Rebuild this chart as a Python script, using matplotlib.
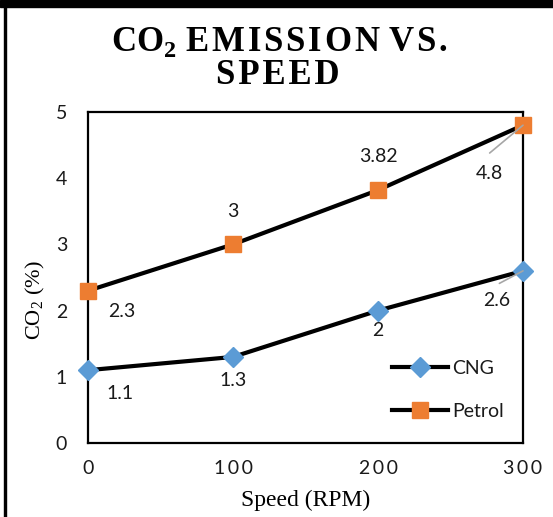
import matplotlib
matplotlib.use("Agg")
import matplotlib.pyplot as plt
from matplotlib.patches import Rectangle

# data
speed = [0, 100, 200, 300]
cng = [1.1, 1.3, 2, 2.6]
petrol = [2.3, 3, 3.82, 4.8]
xtick_labels = ["0", "1\u20090\u20090", "2\u20090\u20090", "3\u20090\u20090"]

blue = "#5B9BD5"
orange = "#ED7D31"

plt.rcParams["font.family"] = ["Lato", "DejaVu Sans"]
plt.rcParams["mathtext.fontset"] = "custom"
plt.rcParams["mathtext.rm"] = "Liberation Serif"
plt.rcParams["mathtext.bf"] = "Liberation Serif:bold"

fig = plt.figure(figsize=(5.53, 5.17), dpi=100)
ax = fig.add_axes([88 / 553, 1 - 443 / 517, 435 / 553, 331 / 517])

ax.plot(speed, cng, color="black", lw=3, marker="D", ms=10.5,
        mfc=blue, mec=blue, label="CNG", zorder=3, clip_on=False)
ax.plot(speed, petrol, color="black", lw=3, marker="s", ms=11.5,
        mfc=orange, mec=orange, label="Petrol", zorder=3, clip_on=False)

ax.set_xlim(0, 300)
ax.set_ylim(0, 5)
ax.set_xticks(speed)
ax.set_xticklabels(xtick_labels)
ax.set_yticks(range(6))
ax.tick_params(length=0, labelsize=14, labelcolor="#1a1a1a")
ax.tick_params(axis="y", pad=15)
ax.tick_params(axis="x", pad=12)
for s in ax.spines.values():
    s.set_linewidth(1.6)
    s.set_color("black")

ax.set_xlabel("Speed (RPM)", family="Liberation Serif", fontsize=17)
ax.xaxis.set_label_coords(0.5, -(500 - 443) / 331)
ax.set_ylabel("CO$_2$ (%)", family="Liberation Serif", fontsize=16)
ax.yaxis.set_label_coords(-(88 - 35) / 435, (443 - 300) / 331)
ax.xaxis.label.set_va("center")
ax.yaxis.label.set_va("center")

# data labels (offsets in points)
def lab(x, y, txt, dx, dy):
    ax.annotate(txt, (x, y), xytext=(dx, dy), textcoords="offset points",
                ha="center", va="center", fontsize=14, color="#1a1a1a")

cng_off = [(23, -17), (0, -17), (0, -14), (-19, -21)]
pet_off = [(24, -15), (0, 24), (0, 24), (-24, -35)]
for x, y, o in zip(speed, cng, cng_off):
    lab(x, y, str(y), *o)
for x, y, o in zip(speed, petrol, pet_off):
    lab(x, y, str(y), *o)

# leader lines for the last points
ax.annotate("", (300, 2.6), xytext=(-17, -9), textcoords="offset points",
            arrowprops=dict(arrowstyle="-", color="#a6a6a6", lw=1.2, shrinkA=0, shrinkB=0))
ax.annotate("", (300, 4.8), xytext=(-24, -20), textcoords="offset points",
            arrowprops=dict(arrowstyle="-", color="#a6a6a6", lw=1.2, shrinkA=0, shrinkB=0))

leg = ax.legend(loc="upper left", bbox_to_anchor=(392 / 553, 1 - 360 / 517),
                bbox_transform=fig.transFigure, frameon=False, fontsize=14,
                handlelength=2.9, handletextpad=0.2, labelspacing=1.35,
                borderpad=0, borderaxespad=0)
for t in leg.get_texts():
    t.set_color("#1a1a1a")

title_font = ["Liberation Serif", "DejaVu Serif"]
hs = "\u200a"
fig.text(0.505, 1 - 42 / 517, "CO$_{\\mathbf{2}}$ " + hs.join("EMISSION") + " " + hs.join("VS."),
         ha="center", va="center", family=title_font, fontweight="bold", fontsize=25)
fig.text(0.503, 1 - 76 / 517, hs.join("SPEED"), ha="center", va="center",
         family=title_font, fontweight="bold", fontsize=25)

# frame pieces around the figure
fig.patches.append(Rectangle((0, 1 - 7 / 517), 1, 7 / 517, transform=fig.transFigure,
                             color="black", zorder=10))
fig.patches.append(Rectangle((3.5 / 553, 0), 2.5 / 553, 1, transform=fig.transFigure,
                             color="black", zorder=10))

fig.savefig("out.png", dpi=100)
